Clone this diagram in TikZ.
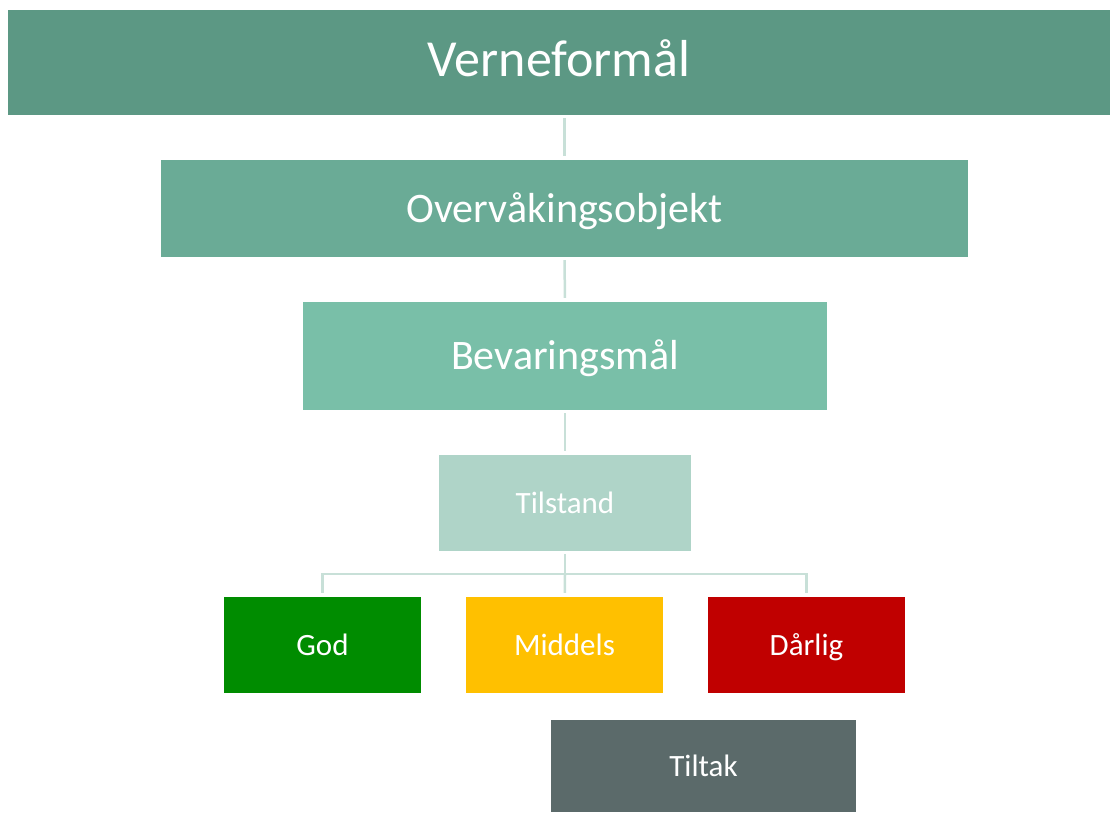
\documentclass[tikz,border=0pt]{standalone}
\usepackage{fontspec}
\setmainfont{Carlito}
\begin{document}
\begin{tikzpicture}[x=1pt,y=-1pt,
  box/.style={draw=none, inner sep=0pt, text=white, align=center, text depth=0pt},
  big/.style={font=\fontsize{52}{60}\selectfont, text height=33.5pt, text depth=5pt},
  mid/.style={font=\fontsize{42}{50}\selectfont, text height=27pt},
  small/.style={font=\fontsize{31}{37}\selectfont, text height=20pt},
  link/.style={draw=linkc, line width=2.5pt, shorten <=3pt, shorten >=4pt}]
\definecolor{c1}{HTML}{5C9884}
\definecolor{c2}{HTML}{6AAB96}
\definecolor{c3}{HTML}{79BFA8}
\definecolor{c4}{HTML}{AFD4C8}
\definecolor{linkc}{HTML}{C8E0D8}
\definecolor{godc}{HTML}{008C00}
\definecolor{midc}{HTML}{FFC000}
\definecolor{badc}{HTML}{C00000}
\definecolor{tiltc}{HTML}{5B6A6A}
\useasboundingbox (0,0) rectangle (1110,812);
\node[box, big, fill=c1, minimum width=1102pt, minimum height=105pt] (ver) at (559,62.5) {Verneformål};
\node[box, mid, fill=c2, minimum width=807pt, minimum height=97pt] (ove) at (564.5,208.5) {Overvåkingsobjekt};
\node[box, mid, fill=c3, minimum width=524pt, minimum height=108pt] (bev) at (565,356) {Bevaringsmål};
\node[box, small, fill=c4, minimum width=252pt, minimum height=96pt] (til) at (565,503) {Tilstand};
\node[box, small, fill=godc, minimum width=197pt, minimum height=96pt] (god) at (322.5,645) {God};
\node[box, small, fill=midc, minimum width=197pt, minimum height=96pt] (midl) at (564.5,645) {Middels};
\node[box, small, fill=badc, minimum width=197pt, minimum height=96pt] (bad) at (806.5,645) {Dårlig};
\node[box, small, fill=tiltc, minimum width=305pt, minimum height=92pt] (tilt) at (703.5,766) {Tiltak};
\coordinate (bus) at (565,574);
\draw[link] (ver.south -| ove) -- (ove);
\draw[link] (ove) -- (bev);
\draw[link] (bev) -- (til);
\draw[link, shorten >=0pt] (til) -- (bus);
\draw[link, shorten <=0pt] (bus) -| (god);
\draw[link, shorten <=0pt] (bus) -- (midl);
\draw[link, shorten <=0pt] (bus) -| (bad);
\end{tikzpicture}
\end{document}
